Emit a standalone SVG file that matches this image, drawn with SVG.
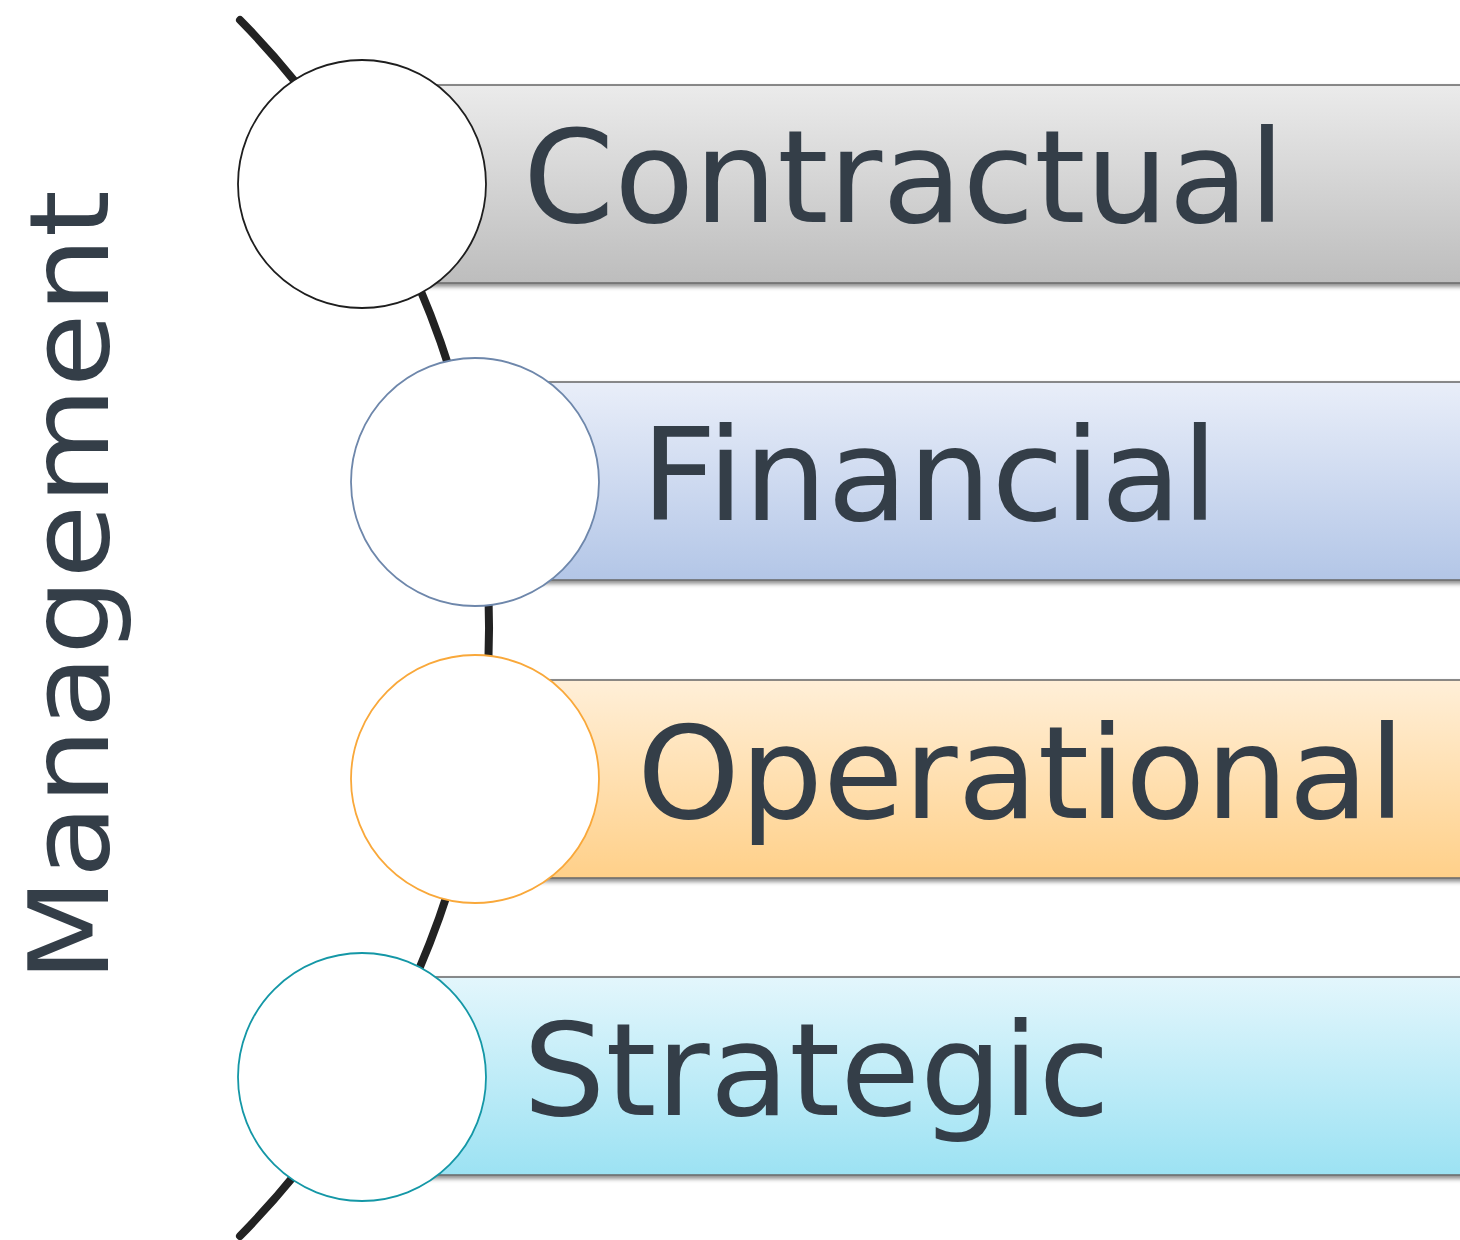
<svg xmlns="http://www.w3.org/2000/svg" width="1460" height="1240" viewBox="0 0 1460 1240">
  <defs>
    <linearGradient id="g1" x1="0" y1="0" x2="0" y2="1">
      <stop offset="0" stop-color="#ebebeb"/>
      <stop offset="1" stop-color="#bdbdbd"/>
    </linearGradient>
    <linearGradient id="g2" x1="0" y1="0" x2="0" y2="1">
      <stop offset="0" stop-color="#e9eef9"/>
      <stop offset="1" stop-color="#b3c6e7"/>
    </linearGradient>
    <linearGradient id="g3" x1="0" y1="0" x2="0" y2="1">
      <stop offset="0" stop-color="#ffefd8"/>
      <stop offset="1" stop-color="#ffd089"/>
    </linearGradient>
    <linearGradient id="g4" x1="0" y1="0" x2="0" y2="1">
      <stop offset="0" stop-color="#e3f6fc"/>
      <stop offset="1" stop-color="#9ce2f3"/>
    </linearGradient>
    <filter id="sh" x="-5%" y="-10%" width="110%" height="130%">
      <feDropShadow dx="0" dy="3" stdDeviation="2" flood-color="#000" flood-opacity="0.45"/>
    </filter>
  </defs>
  <style>
    .bar { stroke: #666666; stroke-width: 1.5; filter: url(#sh); }
    .circ { fill: #ffffff; stroke-width: 1.8; }
    .lbl { font-family: "DejaVu Sans", "Liberation Sans", sans-serif; font-size: 128px; fill: #343e48; }
    .side { font-family: "DejaVu Sans", "Liberation Sans", sans-serif; font-size: 110px; fill: #343e48; }
    .arc { fill: none; stroke: #222222; stroke-width: 8; stroke-linecap: round; }
  </style>
  <rect width="1460" height="1240" fill="#ffffff"/>

  <g id="connectors">
    <path class="arc" d="M 240 20 A 866.7 866.7 0 0 1 240 1236"/>
  </g>

  <g id="node-contractual">
    <rect class="bar" x="362" y="85" width="1110" height="198" fill="url(#g1)"/>
    <circle class="circ" cx="362" cy="184" r="124" stroke="#1e1e1e"/>
    <text class="lbl" x="523" y="222" textLength="762" lengthAdjust="spacingAndGlyphs">Contractual</text>
  </g>

  <g id="node-financial">
    <rect class="bar" x="475" y="382" width="997" height="198" fill="url(#g2)"/>
    <circle class="circ" cx="475" cy="482" r="124" stroke="#6e87ab"/>
    <text class="lbl" x="641" y="520" textLength="577" lengthAdjust="spacingAndGlyphs">Financial</text>
  </g>

  <g id="node-operational">
    <rect class="bar" x="475" y="680" width="997" height="198" fill="url(#g3)"/>
    <circle class="circ" cx="475" cy="779" r="124" stroke="#f9a83a"/>
    <text class="lbl" x="637" y="818" textLength="768" lengthAdjust="spacingAndGlyphs">Operational</text>
  </g>

  <g id="node-strategic">
    <rect class="bar" x="362" y="977" width="1110" height="198" fill="url(#g4)"/>
    <circle class="circ" cx="362" cy="1077" r="124" stroke="#1497a6"/>
    <text class="lbl" x="523" y="1115" textLength="587" lengthAdjust="spacingAndGlyphs">Strategic</text>
  </g>

  <g id="title">
    <text class="side" transform="translate(108,982) rotate(-90)" textLength="792" lengthAdjust="spacingAndGlyphs">Management</text>
  </g>
</svg>
